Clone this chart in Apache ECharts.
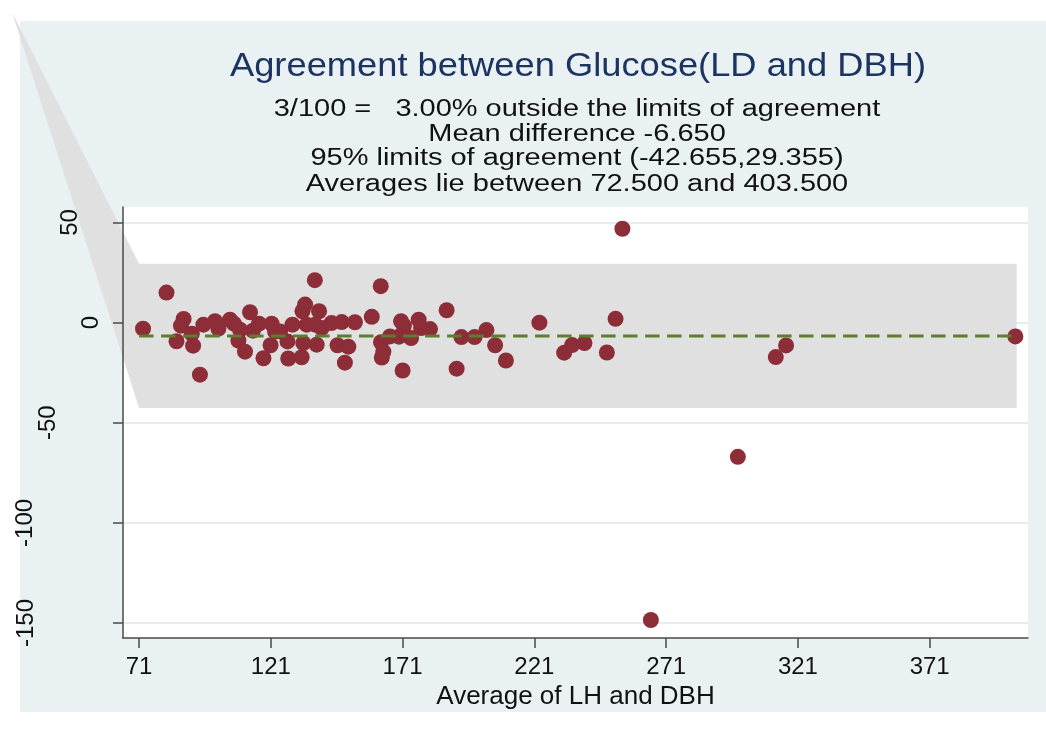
<!DOCTYPE html>
<html>
<head>
<meta charset="utf-8">
<title>Agreement between Glucose</title>
<script src="https://cdn.jsdelivr.net/npm/echarts@6/dist/echarts.min.js"></script>
<style>
  html, body { margin: 0; padding: 0; background: #fff; }
  #chart { width: 1046px; height: 730px; }
</style>
</head>
<body>
<div id="chart"></div>
<script>
// Bland-Altman points (average, difference)
var avgValues = [
  72.5, 81.4, 85.2, 87.9, 86.9, 91.0, 91.5, 94.1, 95.4, 99.8,
  101.1, 105.5, 107.0, 109.3, 108.7, 111.2, 113.1, 114.2, 116.5, 118.2,
  121.3, 122.6, 120.9, 124.5, 127.3, 127.6, 129.2, 132.7, 133.3, 134.0,
  133.0, 134.6, 137.7, 139.3, 137.8, 138.4, 140.3, 144.0, 146.3, 147.9,
  149.1, 150.4, 152.9, 159.3, 162.7, 162.8, 163.7, 163.1, 166.2, 170.4,
  171.5, 169.6, 174.2, 177.1, 178.0, 181.4, 171.0, 187.7, 191.5, 193.3,
  198.3, 202.8, 206.1, 210.2, 222.9, 232.3, 235.3, 240.0, 248.5, 251.8,
  254.4, 265.2, 298.2, 312.6, 316.5, 403.5
];
var diffValues = [
  -3.0, 15.0, -9.3, 1.8, -1.5, -5.5, -11.5, -26.0, -1.0, 0.7,
  -3.0, 1.5, -0.5, -3.5, -9.0, -14.5, 5.2, -4.0, -0.5, -17.8,
  -0.5, -4.4, -11.3, -4.4, -9.4, -17.9, -1.0, -17.3, -10.2, 9.0,
  5.7, -1.0, 21.2, 5.7, -1.0, -11.0, -2.7, -0.2, -11.3, 0.3,
  -20.0, -12.0, 0.2, 2.9, 18.2, -9.8, -14.5, -17.4, -6.9, 0.7,
  -1.5, -7.0, -7.7, 1.5, -2.7, -3.2, -23.9, 6.2, -23.0, -7.2,
  -7.2, -3.7, -11.3, -18.9, 0.0, -15.0, -11.2, -10.2, -14.9, 1.9,
  46.9, -148.5, -67.0, -17.2, -11.4, -6.9
];

// limits-of-agreement band (the first vertex is the stray apex seen top left)
var bandX = [22.8, 71, 404];
var bandUpper = [155, 29.355, 29.355];
var bandLower = [155, -42.655, -42.655];

// mean difference line
var meanX = [71, 403.5];
var meanDiff = -6.65;

var xTicks = [71, 121, 171, 221, 271, 321, 371];
var yTicks = [-150, -100, -50, 0, 50];

var titleText = "Agreement between Glucose(LD and DBH)";
var subLines = [
  "3/100 =   3.00% outside the limits of agreement",
  "Mean difference -6.650",
  "95% limits of agreement (-42.655,29.355)",
  "Averages lie between 72.500 and 403.500"
];

var myChart = echarts.init(document.getElementById("chart"));

var points = avgValues.map(function (x, i) {
  return [x, diffValues[i]];
});

// rotated y labels sit at uneven distances from the axis in the original
// (padding is split around the label, so these are twice the visible shift)
var yLabelShift = { "50": 42, "0": 0, "-50": 86, "-100": 132, "-150": 130 };
var yRich = {};
yTicks.forEach(function (t, i) {
  yRich["t" + i] = {
    fontSize: 24,
    lineHeight: 24,
    color: "#111",
    fontFamily: "Liberation Sans",
    padding: [0, 0, yLabelShift[String(t)], 0],
  };
});

var graphics = [
  {
    type: "rect",
    z: -1,
    silent: true,
    shape: { x: 20, y: 21, width: 1026, height: 691 },
    style: { fill: "#e9f1f3" },
  },
  {
    type: "text",
    x: 578,
    y: 66.5,
    scaleX: 1.1,
    style: {
      text: titleText,
      font: '33px "Liberation Sans"',
      fill: "#1c3461",
      align: "center",
      verticalAlign: "middle",
    },
  },
];
var subY = [109.5, 134.7, 159, 185];
subLines.forEach(function (line, i) {
  graphics.push({
    type: "text",
    x: 577,
    y: subY[i],
    scaleX: 1.26,
    style: {
      text: line,
      font: '23px "Liberation Sans"',
      fill: "#111",
      align: "center",
      verticalAlign: "middle",
    },
  });
});

var option = {
  animation: false,
  backgroundColor: "#fff",
  textStyle: { fontFamily: "Liberation Sans" },
  graphic: graphics,
  grid: {
    show: true,
    left: 123,
    top: 207,
    right: 18,
    bottom: 92,
    backgroundColor: "#fff",
    borderWidth: 0,
  },
  xAxis: {
    type: "value",
    min: 64.9,
    max: 408.3,
    z: 10,
    name: "Average of LH and DBH",
    nameLocation: "middle",
    nameGap: 41,
    nameTextStyle: { fontSize: 26, color: "#111", fontFamily: "Liberation Sans" },
    axisLine: { show: true, onZero: false, lineStyle: { color: "#4a4a4a", width: 1.5 } },
    axisTick: { show: true, length: 10, customValues: xTicks, lineStyle: { color: "#4a4a4a", width: 1.5 } },
    axisLabel: { customValues: xTicks, fontSize: 24, margin: 17, color: "#111" },
    splitLine: { show: false },
  },
  yAxis: [
    {
      type: "value",
      min: -157.5,
      max: 57.75,
      z: 10,
      axisLine: { show: true, onZero: false, lineStyle: { color: "#4a4a4a", width: 1.5 } },
      axisTick: { show: true, length: 10, customValues: yTicks, lineStyle: { color: "#4a4a4a", width: 1.5 } },
      axisLabel: {
        customValues: yTicks,
        rotate: 90,
        margin: 20,
        formatter: function (v) {
          return "{t" + yTicks.indexOf(v) + "|" + v + "}";
        },
        rich: yRich,
      },
      splitLine: { show: false },
    },
    {
      // only carries the light grid lines, kept under the band
      type: "value",
      min: -157.5,
      max: 57.75,
      z: 0,
      position: "left",
      axisLine: { show: false },
      axisTick: { show: false, customValues: yTicks },
      axisLabel: { show: false, customValues: yTicks },
      splitLine: { show: true, lineStyle: { color: "#e4eef1", width: 2 } },
    },
  ],
  series: [
    {
      type: "custom",
      z: 1,
      silent: true,
      yAxisIndex: 0,
      data: [[bandX[1], bandUpper[1]]],
      renderItem: function (params, api) {
        var top = bandX.map(function (x, i) {
          return api.coord([x, bandUpper[i]]);
        });
        var bottom = bandX.map(function (x, i) {
          return api.coord([x, bandLower[i]]);
        }).reverse();
        return {
          type: "polygon",
          shape: { points: top.concat(bottom) },
          style: { fill: "#e0e0e0" },
        };
      },
    },
    {
      type: "scatter",
      z: 3,
      yAxisIndex: 0,
      symbolSize: 16,
      itemStyle: { color: "#8c2d38", opacity: 1 },
      data: points,
    },
    {
      type: "line",
      z: 4,
      yAxisIndex: 0,
      symbol: "none",
      silent: true,
      lineStyle: { color: "#5b7f2d", width: 3, type: [14.5, 7.5] },
      data: meanX.map(function (x) {
        return [x, meanDiff];
      }),
    },
  ],
};

myChart.setOption(option);

window.addEventListener("resize", function () {
  myChart.resize();
});
</script>
</body>
</html>
